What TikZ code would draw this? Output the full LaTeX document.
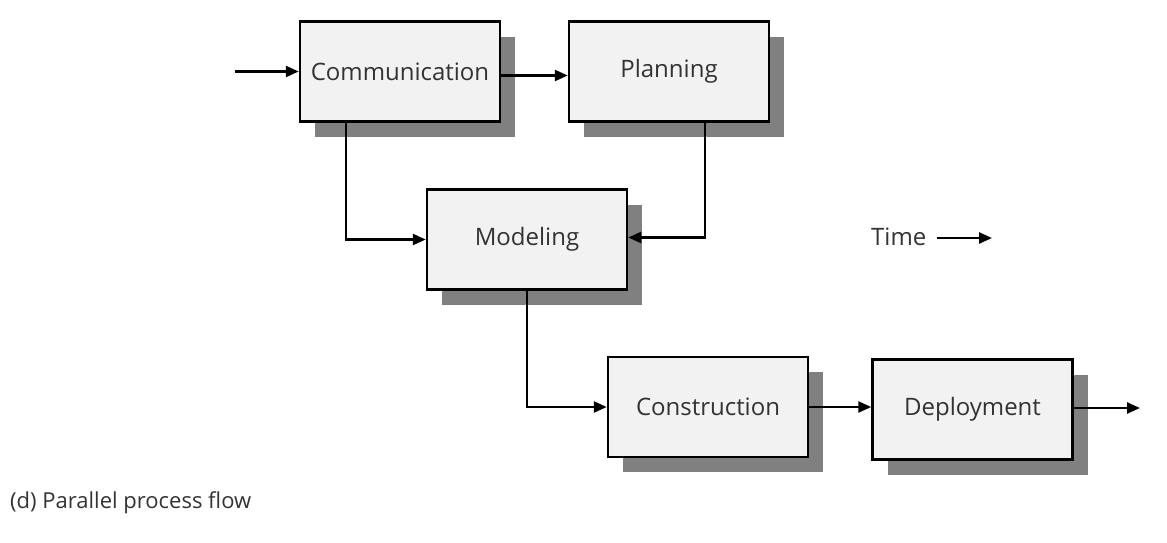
\documentclass[tikz,border=0pt]{standalone}
\usepackage{fontspec}
\setmainfont{Open Sans}
\usetikzlibrary{arrows.meta,shadows}
\definecolor{boxfill}{HTML}{F2F2F2}
\definecolor{shade}{HTML}{808080}
\definecolor{txt}{HTML}{333333}
\tikzset{
  stagebox/.style={draw=black, line width=2.5pt, fill=boxfill, minimum width=200pt, minimum height=100pt,
    inner sep=0pt, text=txt, font=\fontsize{24}{28}\selectfont,
    drop shadow={shadow xshift=15pt, shadow yshift=-15pt, fill=shade, opacity=1}},
  arr/.style={line width=2.5pt, -{Triangle[length=13pt,width=11pt]}},
  lbl/.style={text=txt, inner sep=0pt}
}
\begin{document}
\begin{tikzpicture}[x=1pt,y=-1pt]
\useasboundingbox (0,0) rectangle (1167,542);
\node[stagebox] (comm) at (400,71.5) {Communication};
\node[stagebox] (plan) at (669,71.5) {Planning};
\node[stagebox] (model) at (527,239.5) {Modeling};
\node[stagebox] (cons) at (708,407) {Construction};
\node[stagebox] (dep) at (972.5,409.5) {Deployment};
\coordinate (in) at (235,71.5);
\coordinate (out) at (1140,408);
\draw[arr] (in) -- (comm.west);
\draw[arr] ([yshift=-4pt]comm.east) -- ([yshift=-4pt]comm.east -| plan.west);
\draw[arr] ([xshift=-54pt]comm.south) |- (model.west);
\draw[arr] ([xshift=36pt]plan.south) |- ([yshift=2pt]model.east);
\draw[arr] (model.south) |- (cons.west);
\draw[arr] (cons.east) -- (cons.east -| dep.west);
\draw[arr] (dep.east |- out) -- (out);
\node[lbl, font=\fontsize{24}{28}\selectfont, anchor=west] (time) at (871,237) {Time};
\coordinate (timeend) at (992,238);
\draw[arr] ([xshift=10pt,yshift=-1pt]time.east) -- (timeend);
\node[lbl, font=\fontsize{22}{26}\selectfont, anchor=west] (cap) at (10,503) {(d) Parallel process flow};
\end{tikzpicture}
\end{document}
